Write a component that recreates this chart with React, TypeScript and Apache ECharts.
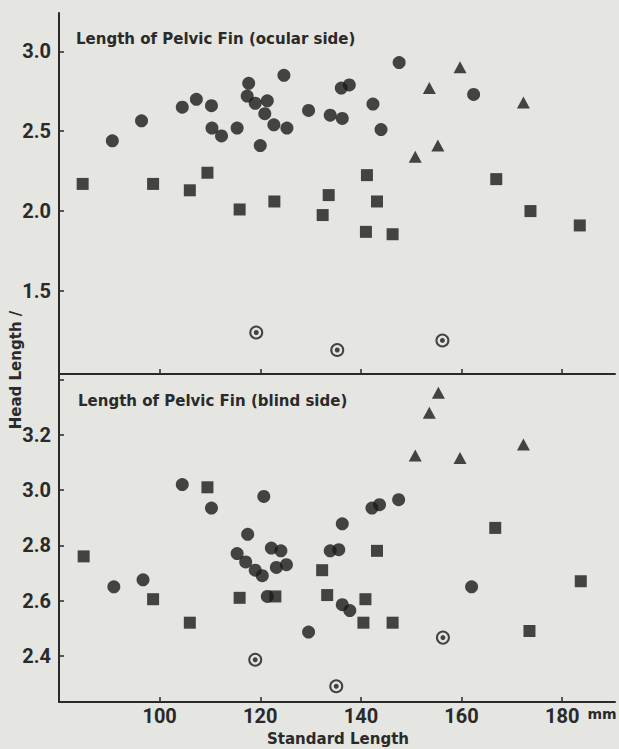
import React, { useEffect, useRef } from "react";
import * as echarts from "echarts";

// Standard length (mm) vs head length / pelvic fin length
const xTicks = [100, 120, 140, 160, 180];
const topYTicks = [1.5, 2.0, 2.5, 3.0];
const botYTicks = [2.4, 2.6, 2.8, 3.0, 3.2, 3.4];
const botYLabels = [2.4, 2.6, 2.8, 3.0, 3.2];

// Top panel: ocular side
const topCircles = [
  [90.6, 2.44], [96.4, 2.565], [104.5, 2.65], [107.3, 2.7], [110.3, 2.66],
  [110.4, 2.52], [112.3, 2.47], [115.4, 2.52], [117.7, 2.8], [117.4, 2.72],
  [119.0, 2.675], [121.4, 2.69], [120.9, 2.61], [120.0, 2.41], [122.7, 2.54],
  [125.3, 2.52], [124.7, 2.85], [129.6, 2.63], [133.9, 2.6], [136.3, 2.58],
  [136.1, 2.77], [137.7, 2.79], [147.6, 2.93], [142.4, 2.67], [144.0, 2.51],
  [162.4, 2.73],
];
const topSquares = [
  [84.7, 2.17], [98.7, 2.17], [106.0, 2.13], [109.5, 2.24], [115.9, 2.01],
  [122.8, 2.06], [141.2, 2.225], [133.6, 2.1], [132.4, 1.975], [143.2, 2.06],
  [141.0, 1.87], [146.3, 1.855], [166.9, 2.2], [173.7, 2.0], [183.5, 1.91],
];
const topTriangles = [
  [159.7, 2.9], [153.6, 2.77], [172.3, 2.68], [155.3, 2.41], [150.8, 2.34],
];
const topRinged = [
  [119.2, 1.24], [156.2, 1.19], [135.3, 1.13],
];

// Bottom panel: blind side
const botCircles = [
  [104.5, 3.02], [110.3, 2.935], [120.7, 2.977], [117.5, 2.84], [115.4, 2.77],
  [117.1, 2.74], [119.0, 2.71], [120.4, 2.69], [122.2, 2.79], [124.1, 2.78],
  [123.2, 2.72], [125.2, 2.73], [121.4, 2.615], [90.9, 2.65], [96.7, 2.675],
  [129.6, 2.486], [147.5, 2.965], [143.7, 2.947], [142.2, 2.935], [136.3, 2.878],
  [133.9, 2.78], [135.6, 2.784], [136.3, 2.585], [137.8, 2.564], [162.0, 2.65],
];
const botSquares = [
  [84.9, 2.76], [98.7, 2.605], [106.0, 2.52], [109.5, 3.01], [115.9, 2.61],
  [123.0, 2.615], [132.3, 2.71], [133.3, 2.62], [143.2, 2.78], [140.9, 2.605],
  [140.5, 2.52], [146.3, 2.52], [166.7, 2.863], [183.7, 2.67], [173.5, 2.49],
];
const botTriangles = [
  [155.4, 3.352], [153.6, 3.28], [150.8, 3.125], [159.7, 3.116], [172.3, 3.165],
];
const botRinged = [
  [119.0, 2.386], [156.3, 2.466], [135.1, 2.29],
];

const INK = "#1a1a1a";
const TXT = "#2a2a2a";
const BG = "#e5e5e2";
const NUMFONT = "Roboto, 'Liberation Sans', sans-serif";
const SANS = "'DejaVu Sans', sans-serif";

export default function App() {
  const ref = useRef<HTMLDivElement>(null);

  useEffect(() => {
    if (!ref.current) return;
    const chart = echarts.init(ref.current, undefined, { renderer: "svg" });

    const axisLine = { show: true, lineStyle: { color: TXT, width: 2 } };
    const tickStyle = (vals: number[]) => ({
      show: true,
      inside: true,
      length: 5,
      lineStyle: { color: TXT, width: 1.5 },
      customValues: vals,
    });
    const numLabel = {
      fontFamily: NUMFONT,
      fontWeight: "bold",
      fontSize: 20,
      color: TXT,
    };

    const scatter = (
      data: number[][],
      idx: number,
      symbol: string,
      size: number | number[],
      extra: any = {}
    ) => ({
      type: "scatter",
      xAxisIndex: idx,
      yAxisIndex: idx,
      data,
      symbol,
      symbolSize: size,
      silent: true,
      itemStyle: { color: INK, ...(extra.itemStyle || {}) },
      z: extra.z || 2,
    });

    const ringSeries = (data: number[][], idx: number) => [
      scatter(data, idx, "circle", 12, {
        itemStyle: { color: "transparent", borderColor: INK, borderWidth: 2 },
      }),
      scatter(data, idx, "circle", 5, { z: 3 }),
    ];

    chart.setOption({
      animation: false,
      backgroundColor: BG,
      grid: [
        { left: 59, top: 13, width: 556, height: 361 },
        { left: 59, top: 374, width: 556, height: 328 },
      ],
      xAxis: [
        {
          gridIndex: 0,
          type: "value",
          min: 80,
          max: 190.5,
          axisLine,
          axisTick: tickStyle(xTicks),
          axisLabel: { show: false },
          splitLine: { show: false },
        },
        {
          gridIndex: 1,
          type: "value",
          min: 80,
          max: 190.5,
          axisLine,
          axisTick: tickStyle(xTicks),
          axisLabel: {
            ...numLabel,
            margin: 4,
            customValues: xTicks,
            formatter: (v: number) => String(v),
          },
          splitLine: { show: false },
        },
      ],
      yAxis: [
        {
          gridIndex: 0,
          type: "value",
          min: 0.98,
          max: 3.24,
          axisLine,
          axisTick: tickStyle(topYTicks),
          axisLabel: {
            ...numLabel,
            margin: 8,
            customValues: topYTicks,
            formatter: (v: number) => v.toFixed(1),
          },
          splitLine: { show: false },
        },
        {
          gridIndex: 1,
          type: "value",
          min: 2.233,
          max: 3.42,
          axisLine,
          axisTick: tickStyle(botYTicks),
          axisLabel: {
            ...numLabel,
            margin: 8,
            customValues: botYLabels,
            formatter: (v: number) => v.toFixed(1),
          },
          splitLine: { show: false },
        },
      ],
      graphic: [
        {
          type: "text",
          left: 76,
          top: 31,
          style: {
            text: "Length of Pelvic Fin (ocular side)",
            font: `bold 15px ${SANS}`,
            fill: TXT,
          },
        },
        {
          type: "text",
          left: 78,
          top: 393,
          style: {
            text: "Length of Pelvic Fin (blind side)",
            font: `bold 15px ${SANS}`,
            fill: TXT,
          },
        },
        {
          type: "text",
          x: 16,
          y: 370,
          rotation: Math.PI / 2,
          style: {
            text: "Head Length /",
            font: `bold 15px ${SANS}`,
            fill: TXT,
            align: "center",
            verticalAlign: "middle",
          },
        },
        {
          type: "text",
          x: 338,
          y: 739,
          style: {
            text: "Standard Length",
            font: `bold 15px ${SANS}`,
            fill: TXT,
            align: "center",
            verticalAlign: "middle",
          },
        },
        {
          type: "text",
          x: 602,
          y: 714,
          style: {
            text: "mm",
            font: `bold 14px ${SANS}`,
            fill: TXT,
            align: "center",
            verticalAlign: "middle",
          },
        },
      ],
      series: [
        scatter(topCircles, 0, "circle", 13),
        scatter(topSquares, 0, "rect", 12),
        scatter(topTriangles, 0, "triangle", [13, 12]),
        ...ringSeries(topRinged, 0),
        scatter(botCircles, 1, "circle", 13),
        scatter(botSquares, 1, "rect", 12),
        scatter(botTriangles, 1, "triangle", [13, 12]),
        ...ringSeries(botRinged, 1),
      ],
    });

    return () => chart.dispose();
  }, []);

  return (
    <div
      ref={ref}
      style={{ position: "absolute", left: 0, top: 0, width: 619, height: 749 }}
    />
  );
}
